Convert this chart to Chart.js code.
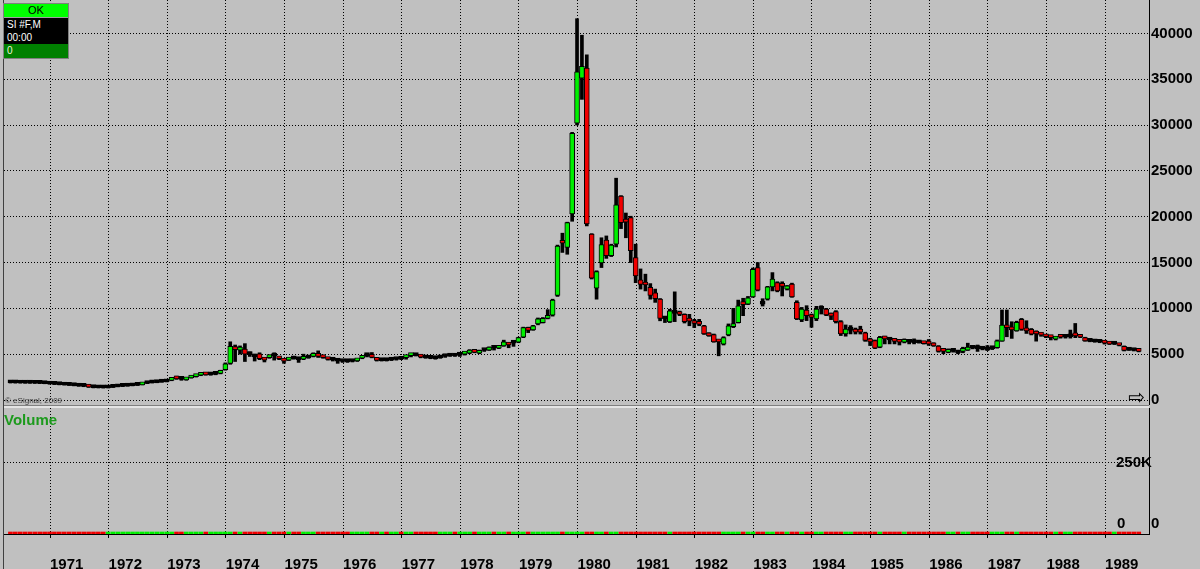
<!DOCTYPE html>
<html>
<head>
<meta charset="utf-8">
<title>SI #F,M monthly</title>
<script src="https://cdn.jsdelivr.net/npm/chart.js@4.4.1/dist/chart.umd.min.js"></script>
<style>
  html, body { margin: 0; padding: 0; background: #c0c0c0; }
  body { width: 1200px; height: 569px; position: relative; overflow: hidden;
         font-family: "Liberation Sans", Arial, sans-serif; }
  #pricePane { position: absolute; left: 0; top: 0; }
  #volPane { position: absolute; left: 0; top: 408px; }
  .frameLeft { position: absolute; left: 3px; top: 0; width: 1px; height: 569px; background: #404040; }
  .splitter { position: absolute; left: 4px; top: 405px; width: 1145px; height: 3px;
              border-top: 1px solid #808080; background: #e4e4e4; box-sizing: border-box; }
  #infoBox { position: absolute; left: 3px; top: 3px; width: 66px; height: 56px; background: #000;
             border: 1px solid #808080; box-sizing: border-box; }
  #infoBox div { height: 13px; line-height: 13px; font-size: 10px; color: #fff; padding-left: 3px; }
  #infoBox .ok { background: #00ff00; color: #000; text-align: center; padding: 0; font-size: 11px;
                 border-bottom: 1px solid #a0a0a0; }
  #infoBox .last { background: #008000; color: #f4f4d8; height: 14px; }
  .lbl { position: absolute; font-weight: bold; font-size: 15px; line-height: 18px; color: #000; }
  #volTitle { position: absolute; left: 4px; top: 411px; font-weight: bold; font-size: 15px; color: #1c9a1c; }
  #copy { position: absolute; left: 5px; top: 396px; font-size: 8px; line-height: 9px; color: #404040; }
  #scrollIcon { position: absolute; left: 1128px; top: 386px; font-size: 20px; line-height: 22px;
                font-family: "DejaVu Sans", sans-serif; color: #000; }
</style>
</head>
<body>
<div class="frameLeft"></div>
<canvas id="pricePane" width="1200" height="405"></canvas>
<div class="splitter"></div>
<canvas id="volPane" width="1200" height="161"></canvas>

<div id="infoBox">
  <div class="ok">OK</div>
  <div>SI #F,M</div>
  <div>00:00</div>
  <div class="last">0</div>
</div>
<div id="copy">© eSignal, 2009</div>
<div id="volTitle">Volume</div>
<div class="lbl" style="left:1116px; top:453px;">250K</div>
<div class="lbl" style="left:1117px; top:514px;">0</div>
<div class="lbl" style="left:1151px; top:514px;">0</div>
<div id="scrollIcon">⇨</div>

<script>
// monthly bars, first bar is April 1970
const firstYear = 1970;
const firstMonth = 4;

const opens = [
  1900, 1880, 1870, 1860, 1850, 1840, 1830, 1820, 1790,
  1750, 1700, 1680, 1640, 1600, 1570, 1520, 1480, 1400, 1350, 1340, 1330,
  1380, 1450, 1480, 1520, 1560, 1600, 1650, 1800, 1870, 1900, 1950, 1990,
  2150, 2500, 2300, 2200, 2400, 2550, 2700, 2900, 2750, 2800, 2900, 3300,
  4000, 5700, 5450, 5550, 5000, 4750, 5050, 4500, 4620, 4850, 4600, 4450,
  4350, 4550, 4450, 4450, 4600, 4750, 5100, 4700, 4550, 4400, 4300, 4250,
  4200, 4200, 4270, 4560, 4850, 4900, 4450, 4300, 4350, 4350, 4420, 4480,
  4620, 4850, 4900, 4820, 4650, 4600, 4550, 4600, 4750, 4800, 4850, 4900,
  5000, 5100, 5450, 5100, 5400, 5450, 5700, 5650, 5900, 6100, 6200, 6300,
  6850, 7700, 7650, 8300, 8450, 8900, 9250, 11400, 17300, 16650, 20300, 30200,
  35100, 36200, 18100, 12200, 14950, 17450, 15750, 17000, 22250, 19500, 19900, 15550,
  13100, 12650, 12300, 11700, 11000, 8900, 8530, 9500, 9620, 9350, 8700, 8450,
  8350, 8100, 7300, 7150, 6450, 6100, 7100, 8000, 8450, 10500, 10450, 11250,
  14450, 10500, 11000, 12350, 12800, 12500, 12100, 12650, 10650, 8730, 9820, 9100,
  8840, 9900, 9930, 9300, 9640, 8550, 7210, 7600, 7750, 7500, 7320, 6500,
  6490, 5760, 6850, 6600, 6500, 6400, 6300, 6350, 6300, 6300, 6300, 6200,
  6200, 5870, 5450, 5200, 5300, 5200, 5300, 5450, 5700, 5650, 5600, 5500,
  5600, 5700, 6420, 8100, 7800, 7550, 8800, 7700, 7700, 7300, 7260, 7000,
  6900, 6650, 7000, 6850, 6900, 7100, 6950, 6800, 6450, 6400, 6350, 6350,
  6200, 6100, 6050, 5850, 5500, 5450, 5400
];
const highs = [
  1930, 1910, 1900, 1890, 1880, 1870, 1860, 1850, 1820,
  1780, 1730, 1710, 1670, 1630, 1600, 1550, 1510, 1430, 1380, 1370, 1410,
  1480, 1510, 1550, 1590, 1630, 1720, 1840, 1900, 1930, 1980, 2030, 2100,
  2450, 2600, 2350, 2450, 2600, 2800, 3000, 2950, 2900, 2950, 3250, 4050,
  6350, 6000, 5900, 6150, 5250, 5000, 5150, 4600, 4900, 5150, 4650, 4500,
  4600, 4650, 4500, 5000, 4750, 5150, 5360, 4750, 4600, 4450, 4350, 4350,
  4300, 4300, 4550, 4800, 4950, 5180, 4650, 4450, 4400, 4500, 4550, 4550,
  4750, 5000, 4950, 4850, 4700, 4650, 4600, 4700, 4850, 4900, 4900, 5000,
  5150, 5500, 5500, 5450, 5550, 5800, 5750, 5850, 6530, 6200, 6350, 6850,
  7950, 7950, 8150, 8950, 9000, 9850, 11000, 16900, 18200, 19400, 29200, 41600,
  39800, 37650, 18150, 14100, 17700, 17900, 17000, 24200, 22300, 20400, 20050, 17000,
  14300, 13730, 12700, 12100, 11070, 9050, 9900, 11800, 9700, 9400, 9350, 8800,
  8800, 8150, 7350, 7200, 6500, 6900, 8300, 10000, 10900, 11100, 11300, 14400,
  15000, 11050, 12400, 13900, 12900, 12900, 12500, 12750, 10830, 10100, 10290, 9380,
  10220, 10290, 10000, 9500, 9750, 8660, 8190, 8120, 7850, 8050, 7400, 6740,
  6550, 6950, 6960, 6740, 6670, 6600, 6670, 6500, 6670, 6450, 6350, 6600,
  6250, 5940, 5580, 5580, 5580, 5400, 5760, 6200, 5940, 6000, 5760, 5940,
  5800, 6550, 9820, 9820, 8540, 8600, 8900, 8650, 7800, 7550, 7300, 7100,
  7000, 6850, 7050, 7100, 7630, 8350, 7000, 6850, 6650, 6600, 6500, 6400,
  6250, 6350, 6100, 5900, 5600, 5600, 5450
];
const lows = [
  1850, 1840, 1830, 1820, 1810, 1800, 1790, 1770, 1720,
  1680, 1650, 1620, 1580, 1540, 1490, 1450, 1370, 1320, 1310, 1300, 1310,
  1360, 1430, 1460, 1500, 1540, 1580, 1640, 1780, 1850, 1880, 1930, 1970,
  2100, 2250, 2150, 2150, 2380, 2500, 2650, 2700, 2700, 2750, 2850, 3250,
  3900, 4200, 5000, 4200, 4750, 4250, 4400, 4150, 4550, 4350, 4400, 4000,
  4300, 4450, 4100, 4400, 4550, 4700, 4640, 4550, 4350, 4250, 4000, 4100,
  4100, 4150, 4200, 4500, 4700, 4600, 4250, 4250, 4250, 4300, 4350, 4400,
  4450, 4700, 4800, 4600, 4550, 4500, 4450, 4550, 4650, 4750, 4750, 4750,
  4900, 5050, 5150, 5050, 5300, 5400, 5450, 5600, 5850, 5700, 5850, 6250,
  6800, 7350, 7600, 8200, 8400, 8850, 9150, 11300, 16100, 15900, 19500, 30000,
  32800, 19000, 13200, 11000, 14450, 15450, 15650, 16700, 18700, 17700, 15000, 12800,
  12100, 11900, 11000, 10650, 8640, 8450, 8450, 8550, 9200, 8400, 8100, 7900,
  8100, 7150, 6950, 6300, 4820, 6000, 7000, 7900, 8400, 9200, 10400, 11200,
  11900, 10250, 10900, 11900, 11800, 11350, 12000, 11200, 8770, 8550, 8660, 7930,
  8660, 9380, 9200, 8770, 8400, 7030, 6960, 7210, 7200, 7200, 6400, 5940,
  5600, 5700, 6120, 6120, 6120, 6000, 6230, 6120, 6120, 6200, 6100, 5950,
  5850, 5220, 5040, 5150, 5220, 5040, 5150, 5400, 5580, 5300, 5470, 5400,
  5500, 5650, 6400, 6900, 6720, 7500, 7600, 7260, 7100, 6420, 6950, 6800,
  6550, 6550, 6750, 6750, 6750, 6800, 6800, 6400, 6350, 6300, 6250, 6100,
  6050, 6050, 5900, 5350, 5400, 5350, 5250
];
const closes = [
  1880, 1870, 1860, 1850, 1840, 1830, 1820, 1790, 1750,
  1700, 1680, 1640, 1600, 1570, 1520, 1480, 1400, 1350, 1340, 1330, 1380,
  1450, 1480, 1520, 1560, 1600, 1650, 1800, 1870, 1900, 1950, 1990, 2050,
  2400, 2300, 2250, 2400, 2550, 2700, 2900, 2750, 2800, 2850, 3200, 3950,
  5850, 5500, 5650, 5000, 4950, 4700, 4500, 4350, 4800, 4800, 4500, 4250,
  4500, 4500, 4400, 4550, 4650, 5100, 4750, 4620, 4420, 4350, 4250, 4200,
  4180, 4250, 4520, 4710, 4880, 4650, 4330, 4350, 4300, 4400, 4480, 4450,
  4700, 4950, 4850, 4680, 4600, 4550, 4520, 4650, 4800, 4850, 4800, 4950,
  5100, 5450, 5200, 5420, 5450, 5720, 5650, 5750, 6350, 6000, 6250, 6800,
  7900, 7600, 8100, 8850, 8900, 9200, 10900, 16800, 17100, 19350, 29100, 35800,
  36400, 19200, 13300, 14000, 16950, 15750, 16900, 21300, 19350, 19400, 16300, 13550,
  12600, 12550, 11400, 11050, 8900, 8850, 9730, 9450, 9330, 8550, 8600, 8350,
  8250, 7200, 7000, 6350, 6350, 6800, 8100, 8350, 10270, 10400, 11150, 14270,
  11980, 10450, 12350, 13180, 11900, 12400, 12450, 11250, 8850, 9930, 9200, 9000,
  9930, 9950, 9280, 9150, 8550, 7210, 7750, 7650, 7390, 7400, 6490, 6350,
  5650, 6850, 6670, 6550, 6400, 6300, 6400, 6300, 6250, 6250, 6150, 6100,
  5900, 5290, 5300, 5300, 5350, 5150, 5380, 5650, 5650, 5600, 5550, 5450,
  5650, 6450, 8180, 7880, 7650, 8470, 7700, 7550, 7190, 7200, 7080, 6900,
  6800, 6800, 6850, 6900, 6950, 7000, 6850, 6450, 6400, 6350, 6300, 6200,
  6100, 6150, 5950, 5400, 5450, 5400, 5300
];
// no volume was recorded for these bars
const volumes = opens.map(() => 0);

const yearTicks = [1971, 1972, 1973, 1974, 1975, 1976, 1977, 1978, 1979, 1980,
                   1981, 1982, 1983, 1984, 1985, 1986, 1987, 1988, 1989];
const priceTicks = [0, 5000, 10000, 15000, 20000, 25000, 30000, 35000, 40000];
const volumeTicks = [250000];

// ---- helpers -------------------------------------------------------------
const UP = '#00f000';
const DOWN = '#f00000';
const BAR_SHIFT = 0.9;           // bars sit near the end of their month slot
const X_MIN = -9.42, X_MAX = 225.0;

const months = opens.map((_, i) => {
    const t = firstMonth - 1 + i;
    return (firstYear + Math.floor(t / 12)) + '-' + String(t % 12 + 1).padStart(2, '0');
});
const monthPos = months.map(m => {
    const [y, mo] = m.split('-').map(Number);
    return (y - 1971) * 12 + (mo - 1) + BAR_SHIFT;
});
const barColors = opens.map((o, i) => closes[i] >= o ? UP : DOWN);
// bodies too thin to show their fill are drawn solid black, as eSignal does
const bodyColors = opens.map((o, i) => Math.abs(closes[i] - o) < 80 ? '#000' : barColors[i]);

Chart.defaults.font.family = '"Liberation Sans", Arial, sans-serif';
Chart.defaults.color = '#000';

function fixWidth(w) {
    return function(scale) {
        scale.width = w;
        scale.paddingTop = 0;
        scale.paddingBottom = 0;
    };
}

const dotted = [1, 2];

const xGrid = {
    type: 'linear',
    min: X_MIN,
    max: X_MAX,
    offset: false,
    afterBuildTicks: s => { s.ticks = yearTicks.map(y => ({ value: (y - 1971) * 12 })); }
};

// ---- price pane ------------------------------------------------------------
new Chart(document.getElementById('pricePane'), {
    type: 'bar',
    data: {
        datasets: [
            {
                label: 'High-Low',
                data: monthPos.map((x, i) => ({ x: x, y: [lows[i], highs[i]] })),
                backgroundColor: '#000',
                barThickness: 3,
                minBarLength: 2,
                grouped: false,
                order: 2
            },
            {
                label: 'Open-Close',
                data: monthPos.map((x, i) => ({ x: x, y: [opens[i], closes[i]] })),
                backgroundColor: bodyColors,
                borderColor: '#000',
                borderWidth: 1,
                borderSkipped: false,
                barThickness: 5,
                minBarLength: 3,
                grouped: false,
                order: 1
            }
        ]
    },
    options: {
        responsive: false,
        animation: false,
        events: [],
        layout: { padding: { left: 4, right: 0, top: 0, bottom: 0 } },
        plugins: { legend: { display: false }, tooltip: { enabled: false } },
        scales: {
            x: Object.assign({}, xGrid, {
                ticks: { display: false },
                grid: { color: '#000', offset: false, drawTicks: false },
                border: { display: false, dash: dotted },
                afterFit: s => { s.height = 0; s.paddingLeft = 0; s.paddingRight = 0; }
            }),
            y: {
                position: 'right',
                min: -545,
                max: 43640,
                afterBuildTicks: s => { s.ticks = priceTicks.map(v => ({ value: v })); },
                ticks: { padding: 2, font: { size: 15, weight: 'bold' }, color: '#000',
                         callback: v => String(v) },
                grid: { color: '#000', drawTicks: false },
                border: { display: true, color: '#000', width: 1, dash: dotted },
                afterFit: fixWidth(51)
            }
        }
    }
});

// ---- volume pane -----------------------------------------------------------
new Chart(document.getElementById('volPane'), {
    type: 'bar',
    data: {
        datasets: [{
            label: 'Volume',
            data: monthPos.map((x, i) => ({ x: x, y: volumes[i] })),
            backgroundColor: barColors,
            barThickness: 4,
            minBarLength: 2
        }]
    },
    options: {
        responsive: false,
        animation: false,
        events: [],
        layout: { padding: { left: 4, right: 0, top: 0, bottom: 0 } },
        plugins: { legend: { display: false }, tooltip: { enabled: false } },
        scales: {
            x: Object.assign({}, xGrid, {
                ticks: {
                    align: 'start',
                    padding: 18,
                    maxRotation: 0,
                    autoSkip: false,
                    font: { size: 15, weight: 'bold' },
                    color: '#000',
                    callback: (v, i) => String(yearTicks[i])
                },
                grid: { color: '#000', offset: false, drawTicks: true, tickLength: 4,
                        tickColor: '#000', tickBorderDash: [] },
                border: { display: true, color: '#000', width: 1, dash: dotted },
                afterFit: s => { s.height = 35; s.paddingLeft = 0; s.paddingRight = 0; }
            }),
            y: {
                position: 'right',
                min: 0,
                max: 437500,
                afterBuildTicks: s => { s.ticks = volumeTicks.map(v => ({ value: v })); },
                ticks: { display: false },
                grid: { color: '#000', drawTicks: false },
                border: { display: true, color: '#000', width: 1, dash: dotted },
                afterFit: fixWidth(51)
            }
        }
    }
});
</script>
</body>
</html>
